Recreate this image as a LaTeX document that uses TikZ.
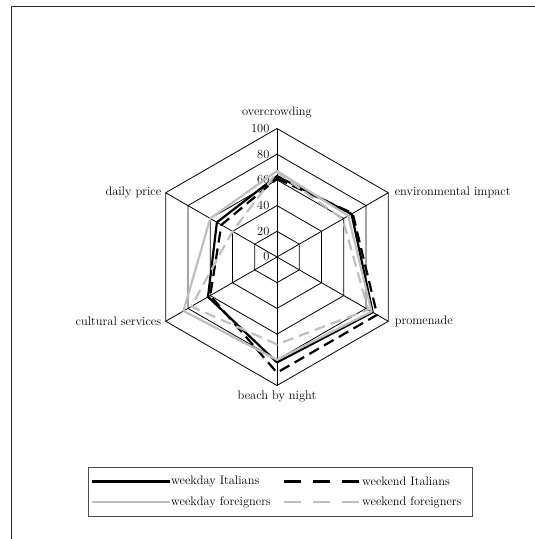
\documentclass[tikz,border=0pt]{standalone}
\usepackage{tikz}
\usetikzlibrary{calc,positioning}

\begin{document}
\begin{tikzpicture}[x=1pt,y=1pt,font=\fontsize{12.4}{14}\selectfont]

\tikzset{grid/.style={black, line width=0.8pt},
wdayit/.style={black, line width=2.2pt, line join=round},
wendit/.style={black, line width=2.2pt, line join=round, dash pattern=on 11pt off 6pt},
wdayfo/.style={black!25, line width=2.2pt, line join=round},
wendfo/.style={black!25, line width=2.2pt, line join=round, dash pattern=on 11pt off 6pt},
ticklabel/.style={anchor=east, inner sep=0pt}}

\useasboundingbox (-277,-282) rectangle (258,257);
\clip (-277,-282) rectangle (258,257);

%outer frame, only the left and top sides are in the picture
\draw[black!85, line width=1.3pt] (-265.5,-300) -- (-265.5,250.5) -- (270,250.5);

\begin{scope}[scale=1.285]
%the hexagonal grid
\foreach \r in {20,40,60,80,100}
  \draw[grid] (90:\r) -- (30:\r) -- (-30:\r) -- (-90:\r) -- (-150:\r) -- (150:\r) -- cycle;

\foreach \a/\n in {90/1, 30/2, -30/3, -90/4, -150/5, 150/6}
{
  \draw[grid] (0,0) -- (\a:100);
  \coordinate (ax\n) at (\a:100);
}

\foreach \r in {0,20,...,100}
  \node[ticklabel] (tick\r) at (-5.8,\r) {\r};

%now the four series
\foreach \s/\o/\e/\p/\b/\c/\d in {wdayit/63/67/86/82/62/54, wendit/61/68/90/90/60/50, wdayfo/67/64/85/80/84/60, wendfo/66/59/82/68/77/40}
  \draw[\s] (90:\o) -- (30:\e) -- (-30:\p) -- (-90:\b) -- (-150:\c) -- (150:\d) -- cycle;
\end{scope}

\node[above=7pt of ax1] (ovc) {overcrowding};
\node[right=3pt of ax2] (env) {environmental impact};
\node[right=3pt of ax3] (prom) {promenade};
\node[below=2pt of ax4] (beach) {beach by night};
\node[left=1pt of ax5] (cult) {cultural services};
\node[left=1pt of ax6] (price) {daily price};

%legend
\node[draw=black!70, line width=0.9pt, minimum width=384pt, minimum height=49pt, inner sep=0pt] (legend) at (3,-234.5) {};

\node[anchor=west, inner sep=0.5pt] (t1) at (-106.5,-224.5) {weekday Italians};
\node[anchor=west, inner sep=0.5pt] (t2) at (84.5,-224.5) {weekend Italians};
\node[anchor=west, inner sep=0.5pt] (t3) at (-106.5,-245) {weekday foreigners};
\node[anchor=west, inner sep=0.5pt] (t4) at (84.5,-245) {weekend foreigners};

\coordinate (l1) at (-185,-224.5);
\coordinate (l2) at (7,-224.5);
\coordinate (l3) at (-185,-245);
\coordinate (l4) at (7,-245);

\draw[wdayit] (l1) -- (t1.west);
\draw[wendit, dash pattern=on 17pt off 12pt] (l2) -- (t2.west);
\draw[wdayfo] (l3) -- (t3.west);
\draw[wendfo, dash pattern=on 17pt off 12pt] (l4) -- (t4.west);

\end{tikzpicture}
\end{document}
